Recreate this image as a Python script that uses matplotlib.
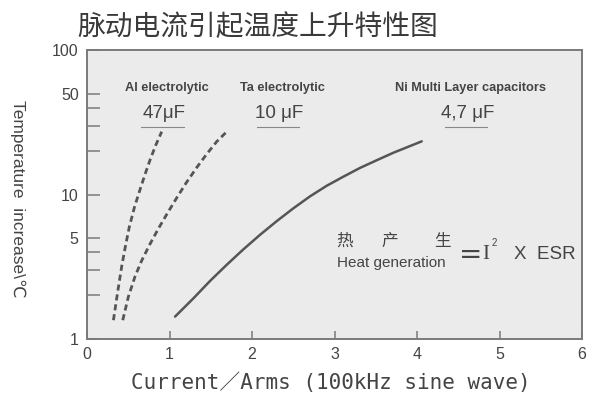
import matplotlib
matplotlib.use("Agg")
import matplotlib.pyplot as plt

plt.rcParams['font.family'] = ['Noto Sans CJK SC', 'DejaVu Sans']

# ripple current (Arms) vs temperature rise (deg C)
al_47uF_x = [0.32, 0.37, 0.42, 0.467, 0.513, 0.575, 0.642, 0.703, 0.764, 0.833, 0.905]
al_47uF_y = [1.34, 2.08, 3.16, 4.42, 5.97, 8.17, 10.8, 13.8, 17.4, 22.0, 27.3]

ta_10uF_x = [0.433, 0.501, 0.582, 0.663, 0.764, 0.864, 0.966, 1.087, 1.208, 1.33,
             1.451, 1.572, 1.693]
ta_10uF_y = [1.34, 1.95, 2.70, 3.48, 4.54, 5.78, 7.28, 9.48, 12.2, 15.4,
             19.1, 23.3, 27.3]

mlcc_x = [1.067, 1.289, 1.491, 1.693, 1.895, 2.097, 2.299, 2.501, 2.703, 2.905,
          3.107, 3.309, 3.512, 3.713, 3.915, 4.057]
mlcc_y = [1.42, 1.90, 2.51, 3.25, 4.16, 5.25, 6.53, 8.02, 9.71, 11.5,
          13.3, 15.3, 17.3, 19.5, 21.7, 23.4]

series_names = ['Al electrolytic', 'Ta electrolytic', 'Ni Multi Layer capacitors']
series_caps = ['47μF', '10 μF', '4,7 μF']

xticks = [0, 1, 2, 3, 4, 5, 6]
yticks = [1, 5, 10, 50, 100]
yminor = [2, 3, 4, 20, 30, 40]

grey = '#555555'
frame = '#7a7a7a'
tc = '#444444'
latin = ['Liberation Sans', 'DejaVu Sans']

fig = plt.figure(figsize=(5.9, 4.03), dpi=100)
ax = fig.add_axes([0.1475, 0.16, 0.839, 0.7147])
ax.set_facecolor('#ebebeb')

ax.plot(al_47uF_x, al_47uF_y, color=grey, lw=2.0, ls=(0, (2.2, 1.4)))
ax.plot(ta_10uF_x, ta_10uF_y, color=grey, lw=2.0, ls=(0, (2.2, 1.4)))
ax.plot(mlcc_x, mlcc_y, color=grey, lw=1.8, solid_capstyle='round',
        solid_joinstyle='round')

ax.set_yscale('log')
ax.set_xlim(0, 6)
ax.set_ylim(1, 100)
ax.set_xticks(xticks, [str(t) for t in xticks])
ax.set_yticks(yticks, [str(t) for t in yticks])
ax.set_yticks(yminor, minor=True)
ax.yaxis.set_minor_formatter(plt.NullFormatter())
ax.tick_params(axis='y', which='both', direction='in', length=9, width=1.1,
               color=frame, labelsize=11.5, labelcolor=tc, pad=6)
ax.tick_params(axis='x', direction='in', length=6, width=1.1,
               color=frame, labelsize=11.5, labelcolor=tc, pad=6)
for lab in ax.get_xticklabels() + ax.get_yticklabels():
    lab.set_family(latin)
for s in ax.spines.values():
    s.set_color(frame)
    s.set_linewidth(1.4)

# series captions above the curves
cap_x = [0.97, 2.37, 4.65]
for name, cap, cx in zip(series_names, series_caps, cap_x):
    ax.text(cx, 55, name, ha='center', va='center', fontsize=9.2,
            color=tc, family=latin, weight='bold')
    ax.text(cx - 0.04, 36.5, cap, ha='center', va='center', fontsize=13.5,
            color=tc, family=latin)
    ax.plot([cx - 0.31, cx + 0.2], [29.4, 29.4], color='#888888', lw=0.8)

# heat generation formula
for ch, fx in zip(['热', '产', '生'], [0.521, 0.612, 0.719]):
    ax.text(fx, 0.337, ch, transform=ax.transAxes, ha='center', va='center',
            fontsize=12, color=tc)
ax.text(0.505, 0.262, 'Heat generation', transform=ax.transAxes, ha='left',
        va='center', fontsize=11, color=tc, family=latin)
ax.text(0.775, 0.29, '=', transform=ax.transAxes, ha='center', va='center',
        fontsize=20, color=tc, family=['DejaVu Sans'])
ax.text(0.806, 0.29, 'I', transform=ax.transAxes, ha='center', va='center',
        fontsize=15, color=tc, family=['Liberation Serif', 'DejaVu Serif'])
ax.text(0.822, 0.33, '2', transform=ax.transAxes, ha='center', va='center',
        fontsize=7, color=tc, family=latin)
ax.text(0.862, 0.29, 'X  ESR', transform=ax.transAxes, ha='left', va='center',
        fontsize=13.5, color=tc, family=latin)

fig.text(0.436, 0.934, '脉动电流引起温度上升特性图', ha='center', va='center',
         fontsize=20, color='#3a3a3a')
fig.text(0.561, 0.05, 'Current／Arms (100kHz sine wave)', ha='center', va='center',
         fontsize=15, color=tc, family=['DejaVu Sans Mono', 'Noto Sans CJK JP'])
fig.text(0.03, 0.506, 'Temperature  increase\\\u2103', ha='center', va='center',
         rotation=270, fontsize=12.5, color=tc, family=latin)

fig.savefig('out.png', dpi=100, facecolor='white')
